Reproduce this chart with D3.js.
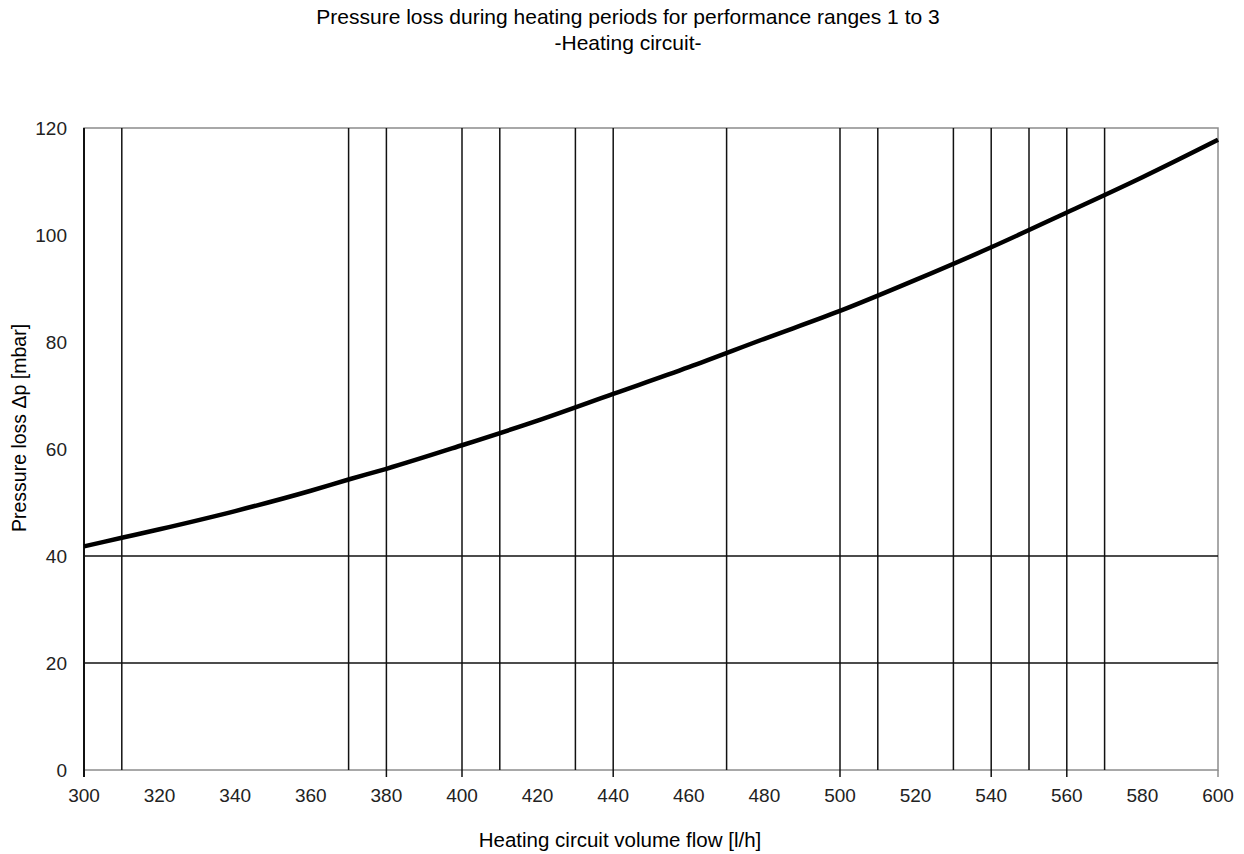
<!DOCTYPE html>
<html>
<head>
<meta charset="utf-8">
<script src="https://cdn.jsdelivr.net/npm/d3@7"></script>
<style>
  body { margin: 0; background: #fff; }
  text { font-family: "Liberation Sans", Arial, sans-serif; }
</style>
</head>
<body>
<svg class="chart" width="1244" height="854"></svg>
<script>
// flow values [l/h] and pressure loss [mbar]
var flow = [300, 310, 320, 340, 360, 370, 380, 400, 420, 440, 460, 480, 500, 520, 540, 560, 580, 600];
var loss = [41.8, 43.4, 45.0, 48.4, 52.2, 54.3, 56.3, 60.7, 65.3, 70.3, 75.3, 80.6, 85.8, 91.6, 97.7, 104.2, 110.8, 117.8];

var xTicks = [300, 320, 340, 360, 380, 400, 420, 440, 460, 480, 500, 520, 540, 560, 580, 600];
var yTicks = [0, 20, 40, 60, 80, 100, 120];
var xGrid = [310, 370, 380, 400, 410, 430, 440, 470, 500, 510, 530, 540, 550, 560, 570];
var yGrid = [20, 40];

var titleLines = ["Pressure loss during heating periods for performance ranges 1 to 3", "-Heating circuit-"];
var xTitle = "Heating circuit volume flow [l/h]";
var yTitle = "Pressure loss \u0394p [mbar]";

var svg = d3.select(".chart");
var margin = { left: 84, right: 26, top: 128, bottom: 84 };
var width = +svg.attr("width"), height = +svg.attr("height");

var x = d3.scaleLinear().domain([300, 600]).range([margin.left, width - margin.right]);
var y = d3.scaleLinear().domain([0, 120]).range([height - margin.bottom, margin.top]);

// frame
svg.append("rect")
    .attr("x", x(300)).attr("y", y(120))
    .attr("width", x(600) - x(300)).attr("height", y(0) - y(120))
    .attr("fill", "none").attr("stroke", "#8c8c8c").attr("stroke-width", 1.5);

// grid lines
svg.append("g").selectAll("line")
    .data(xGrid)
    .enter().append("line")
    .attr("x1", function(d) { return x(d); })
    .attr("x2", function(d) { return x(d); })
    .attr("y1", y(120))
    .attr("y2", function(d) { return d % 20 === 0 ? y(0) + 7 : y(0); })
    .attr("stroke", "#111").attr("stroke-width", 1.5);

svg.append("g").selectAll("line")
    .data(yGrid)
    .enter().append("line")
    .attr("x1", x(300)).attr("x2", x(600))
    .attr("y1", function(d) { return y(d); })
    .attr("y2", function(d) { return y(d); })
    .attr("stroke", "#111").attr("stroke-width", 1.5);

// left axis line + small ticks at 300/600
svg.append("line")
    .attr("x1", x(300)).attr("x2", x(300))
    .attr("y1", y(120)).attr("y2", y(0) + 7)
    .attr("stroke", "#111").attr("stroke-width", 2);
svg.append("line")
    .attr("x1", x(600)).attr("x2", x(600))
    .attr("y1", y(0)).attr("y2", y(0) + 7)
    .attr("stroke", "#8c8c8c").attr("stroke-width", 1.5);

// tick labels
svg.append("g").selectAll("text")
    .data(xTicks)
    .enter().append("text")
    .attr("x", function(d) { return x(d); })
    .attr("y", y(0) + 32)
    .attr("text-anchor", "middle")
    .attr("font-size", 19)
    .attr("fill", "#222")
    .text(function(d) { return d; });

svg.append("g").selectAll("text")
    .data(yTicks)
    .enter().append("text")
    .attr("x", x(300) - 17)
    .attr("y", function(d) { return y(d) + 7; })
    .attr("text-anchor", "end")
    .attr("font-size", 19)
    .attr("fill", "#222")
    .text(function(d) { return d; });

// curve
var line = d3.line()
    .x(function(d, i) { return x(flow[i]); })
    .y(function(d) { return y(d); })
    .curve(d3.curveMonotoneX);

svg.append("path")
    .datum(loss)
    .attr("d", line)
    .attr("fill", "none")
    .attr("stroke", "#000")
    .attr("stroke-width", 4.5);

// titles
svg.append("g").selectAll("text")
    .data(titleLines)
    .enter().append("text")
    .attr("x", 628)
    .attr("y", function(d, i) { return 24 + i * 26; })
    .attr("text-anchor", "middle")
    .attr("font-size", 21)
    .attr("fill", "#000")
    .text(function(d) { return d; });

svg.append("text")
    .attr("x", 620).attr("y", 847)
    .attr("text-anchor", "middle")
    .attr("font-size", 20.5)
    .text(xTitle);

svg.append("text")
    .attr("transform", "translate(26," + 428 + ") rotate(-90)")
    .attr("text-anchor", "middle")
    .attr("font-size", 19.5)
    .text(yTitle);
</script>
</body>
</html>
